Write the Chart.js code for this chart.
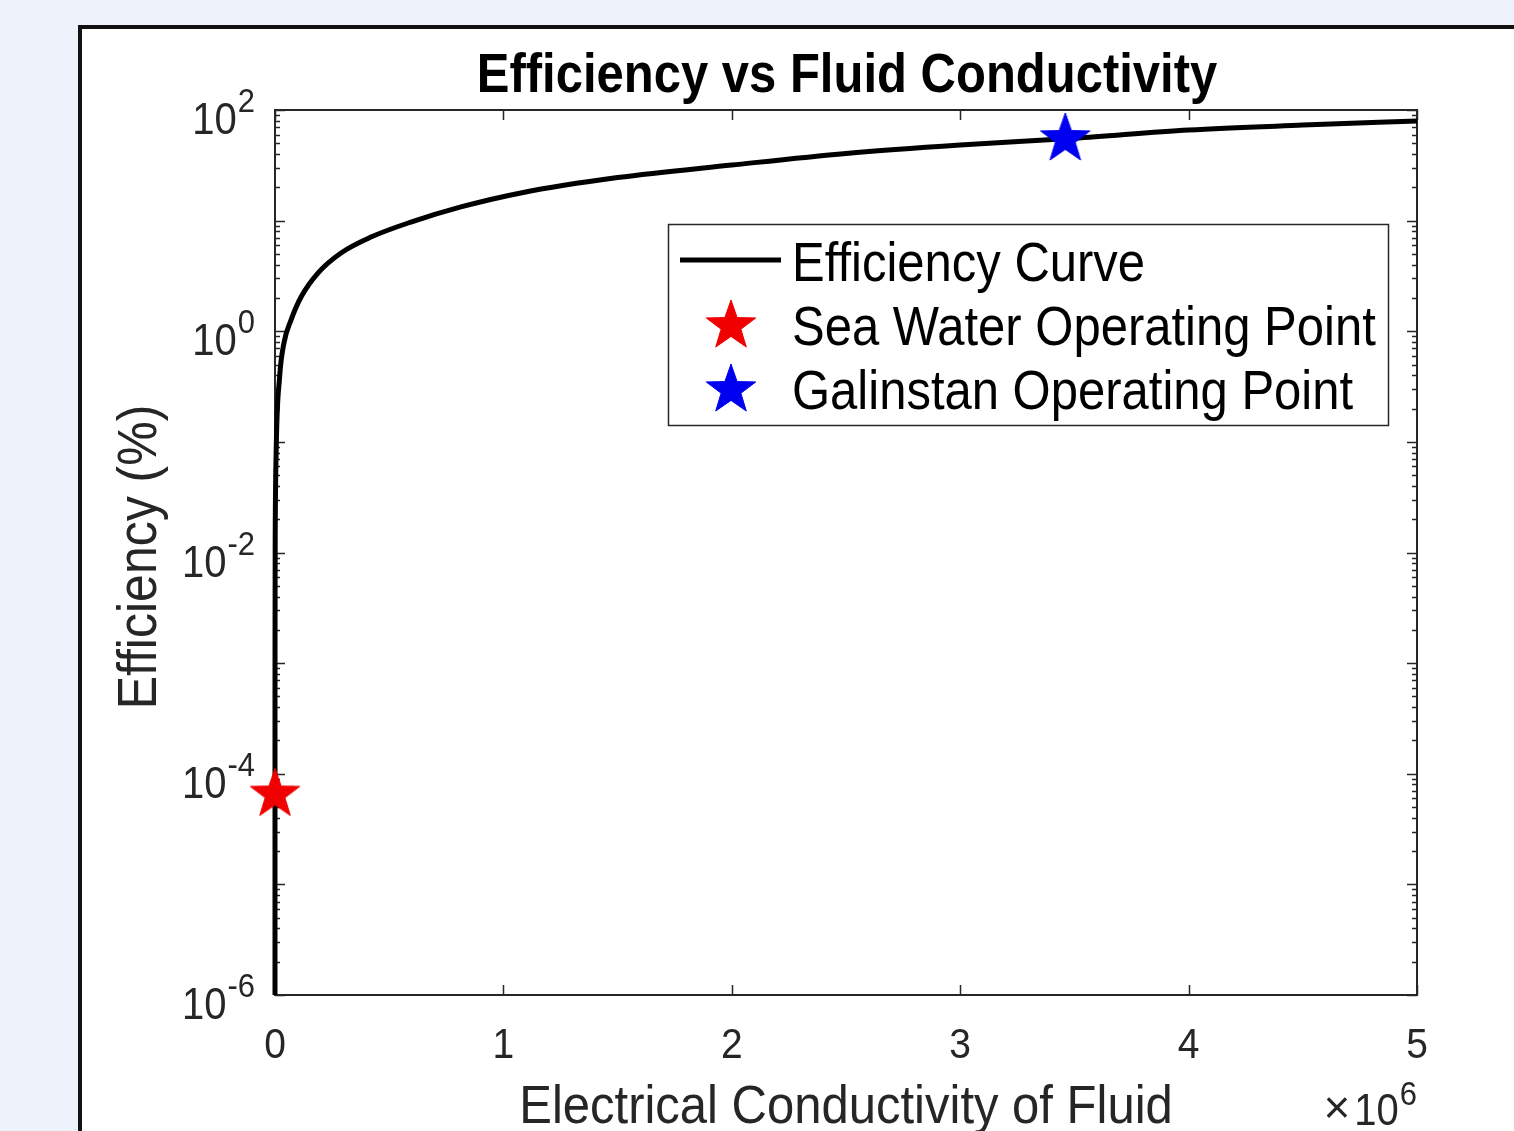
<!DOCTYPE html>
<html>
<head>
<meta charset="utf-8">
<script src="https://cdn.jsdelivr.net/npm/chart.js@4.4.1/dist/chart.umd.min.js"></script>
<style>
  html, body { margin: 0; padding: 0; background: #eef3fb; }
  canvas { display: block; }
</style>
</head>
<body>
<canvas id="c" width="1514" height="1131"></canvas>
<script>
// ---- data ----
const curveSigma = [0.07, 1, 4.8, 10, 100, 1000, 5000, 20000, 39000, 70000, 114000, 188000, 289000, 420000, 595000, 814000, 1076000, 1500000, 2000000, 2500000, 3000000, 3500000, 4000000, 4500000, 5000000];
const curveEff   = [1e-6, 1.4e-5, 6.5e-5, 1.4e-4, 1.4e-3, 0.015, 0.08, 0.38, 0.78, 1.26, 2.04, 3.36, 5.1, 7.1, 9.7, 13.3, 17.8, 24.5, 31.8, 40.5, 48.3, 55.5, 65.9, 73.0, 79.6];
const seaSigma = [4.8];
const seaEff   = [6.5e-5];
const galSigma = [3.46e6];
const galEff   = [54.7];
const xTickLabels = [0, 1, 2, 3, 4, 5];      // x 10^6
const yLabelExps  = [-6, -4, -2, 0, 2];
const legendLabels = ['Efficiency Curve', 'Sea Water Operating Point', 'Galinstan Operating Point'];
const titleText = 'Efficiency vs Fluid Conductivity';
const xTitle = 'Electrical Conductivity of Fluid';
const yTitle = 'Efficiency (%)';

const W = 1514, H = 1131;
const FONT = '"Liberation Sans", Arial, Helvetica, sans-serif';
const AX = '#262626';

function makeStar(color, R) {
  const size = Math.ceil(2 * R + 4);
  const c = document.createElement('canvas');
  c.width = size; c.height = size;
  const g = c.getContext('2d');
  const cx = size / 2, cy = size / 2;
  g.beginPath();
  for (let i = 0; i < 10; i++) {
    const r = (i % 2) ? R * 0.40 : R;
    const a = -Math.PI / 2 + i * Math.PI / 5;
    const px = cx + r * Math.cos(a), py = cy + r * Math.sin(a);
    if (i === 0) g.moveTo(px, py); else g.lineTo(px, py);
  }
  g.closePath();
  g.fillStyle = color; g.fill();
  g.lineWidth = 1; g.strokeStyle = color; g.stroke();
  return c;
}
const redStar = makeStar('#f00000', 26);
const blueStar = makeStar('#0000f0', 26);

function txt(ctx, s, x, y, size, align, sy, color, bold) {
  ctx.save();
  ctx.font = (bold ? 'bold ' : '') + size + 'px ' + FONT;
  ctx.fillStyle = color;
  ctx.textAlign = align;
  ctx.textBaseline = 'alphabetic';
  ctx.translate(x, y);
  ctx.scale(1, sy);
  ctx.fillText(s, 0, 0);
  ctx.restore();
}
function measure(ctx, s, size) {
  ctx.save(); ctx.font = size + 'px ' + FONT; const w = ctx.measureText(s).width; ctx.restore(); return w;
}

const matlabPlugin = {
  id: 'matlab',
  beforeDraw(chart) {
    const ctx = chart.ctx;
    ctx.save();
    ctx.fillStyle = '#eef3fb';
    ctx.fillRect(0, 0, W, H);
    ctx.fillStyle = '#ffffff';
    ctx.fillRect(80, 27, W, H);
    ctx.strokeStyle = '#111111';
    ctx.lineWidth = 4;
    ctx.beginPath();
    ctx.moveTo(80, H + 5); ctx.lineTo(80, 27); ctx.lineTo(W + 5, 27);
    ctx.stroke();
    ctx.restore();
  },
  beforeDatasetsDraw(chart) {
    const ctx = chart.ctx, a = chart.chartArea;
    const xs = chart.scales.x, ys = chart.scales.y;
    ctx.save();
    ctx.strokeStyle = AX;
    ctx.lineWidth = 1.5;
    ys.ticks.forEach(t => {
      const y = Math.round(ys.getPixelForValue(t.value)) + 0.5;
      const len = t.major ? 10 : 5;
      ctx.beginPath();
      ctx.moveTo(a.left, y); ctx.lineTo(a.left + len, y);
      ctx.moveTo(a.right, y); ctx.lineTo(a.right - len, y);
      ctx.stroke();
    });
    xs.ticks.forEach(t => {
      const x = Math.round(xs.getPixelForValue(t.value)) + 0.5;
      ctx.beginPath();
      ctx.moveTo(x, a.bottom); ctx.lineTo(x, a.bottom - 10);
      ctx.moveTo(x, a.top); ctx.lineTo(x, a.top + 10);
      ctx.stroke();
    });
    ctx.lineWidth = 2;
    ctx.strokeRect(a.left, a.top, a.right - a.left, a.bottom - a.top);
    ctx.restore();
  },
  afterDraw(chart) {
    const ctx = chart.ctx;
    const xs = chart.scales.x, ys = chart.scales.y;
    txt(ctx, titleText, 847, 92, 49, 'center', 1.14, '#000000', true);
    xs.ticks.forEach(t => {
      const x = xs.getPixelForValue(t.value);
      txt(ctx, String(t.value / 1e6), x, 1058, 39, 'center', 1.1, AX);
    });
    const supW6 = measure(ctx, '6', 31);
    txt(ctx, '6', 1417, 1105, 31, 'right', 1.1, AX);
    txt(ctx, '10', 1417 - supW6 - 1, 1125, 40, 'right', 1.1, AX);
    txt(ctx, '\u00d7', 1417 - supW6 - 1 - measure(ctx, '10', 40) - 4, 1123, 46, 'right', 1.0, AX);
    yLabelExps.forEach(e => {
      const y = ys.getPixelForValue(Math.pow(10, e));
      const sup = String(e);
      const sw = measure(ctx, sup, 31);
      txt(ctx, sup, 255, y + 2, 31, 'right', 1.1, AX);
      txt(ctx, '10', 255 - sw - 1, y + 24, 40, 'right', 1.1, AX);
    });
    txt(ctx, xTitle, 846, 1123, 49, 'center', 1.1, AX);
    ctx.save();
    ctx.translate(156, 557);
    ctx.rotate(-Math.PI / 2);
    txt(ctx, yTitle, 0, 0, 50, 'center', 1.12, AX);
    ctx.restore();
    ctx.save();
    ctx.fillStyle = '#ffffff';
    ctx.fillRect(668, 224, 720, 201);
    ctx.strokeStyle = AX;
    ctx.lineWidth = 1.5;
    ctx.strokeRect(668.5, 224.5, 720, 201);
    ctx.strokeStyle = '#000000';
    ctx.lineWidth = 5;
    ctx.beginPath(); ctx.moveTo(680, 260); ctx.lineTo(781, 260); ctx.stroke();
    ctx.drawImage(redStar, 731 - redStar.width / 2, 326 - redStar.height / 2);
    ctx.drawImage(blueStar, 731 - blueStar.width / 2, 390 - blueStar.height / 2);
    ctx.restore();
    txt(ctx, legendLabels[0], 792, 281, 49, 'left', 1.14, '#000000');
    txt(ctx, legendLabels[1], 792, 345, 49, 'left', 1.14, '#000000');
    txt(ctx, legendLabels[2], 792, 409, 49, 'left', 1.14, '#000000');
  }
};

const yTickValues = [];
for (let e = -6; e < 2; e++) for (let m = 1; m <= 9; m++) yTickValues.push({ value: m * Math.pow(10, e), major: m === 1 });
yTickValues.push({ value: 100, major: true });

new Chart(document.getElementById('c'), {
  type: 'scatter',
  data: {
    datasets: [
      {
        label: legendLabels[0],
        data: curveSigma.map((s, i) => ({ x: s, y: curveEff[i] })),
        showLine: true,
        borderColor: '#000000',
        borderWidth: 5,
        pointRadius: 0,
        cubicInterpolationMode: 'monotone',
        clip: 6,
        order: 3
      },
      {
        label: legendLabels[1],
        data: seaSigma.map((s, i) => ({ x: s, y: seaEff[i] })),
        pointStyle: redStar,
        pointRadius: 10,
        clip: false,
        order: 1
      },
      {
        label: legendLabels[2],
        data: galSigma.map((s, i) => ({ x: s, y: galEff[i] })),
        pointStyle: blueStar,
        pointRadius: 10,
        clip: false,
        order: 2
      }
    ]
  },
  options: {
    responsive: false,
    animation: false,
    devicePixelRatio: 1,
    layout: { padding: { left: 0, top: 110, right: 97, bottom: 0 } },
    plugins: { legend: { display: false }, title: { display: false }, tooltip: { enabled: false } },
    scales: {
      x: {
        type: 'linear', position: 'bottom', min: 0, max: 5e6,
        grid: { display: false }, border: { display: false },
        ticks: { display: false },
        afterBuildTicks: s => { s.ticks = xTickLabels.map(v => ({ value: v * 1e6 })); },
        afterFit: s => { s.height = H - 995; }
      },
      y: {
        type: 'logarithmic', position: 'left', min: 1e-6, max: 100,
        grid: { display: false }, border: { display: false },
        ticks: { display: false },
        afterBuildTicks: s => { s.ticks = yTickValues.map(t => ({ value: t.value, major: t.major })); },
        afterFit: s => { s.width = 275; }
      }
    }
  },
  plugins: [matlabPlugin]
});
</script>
</body>
</html>
